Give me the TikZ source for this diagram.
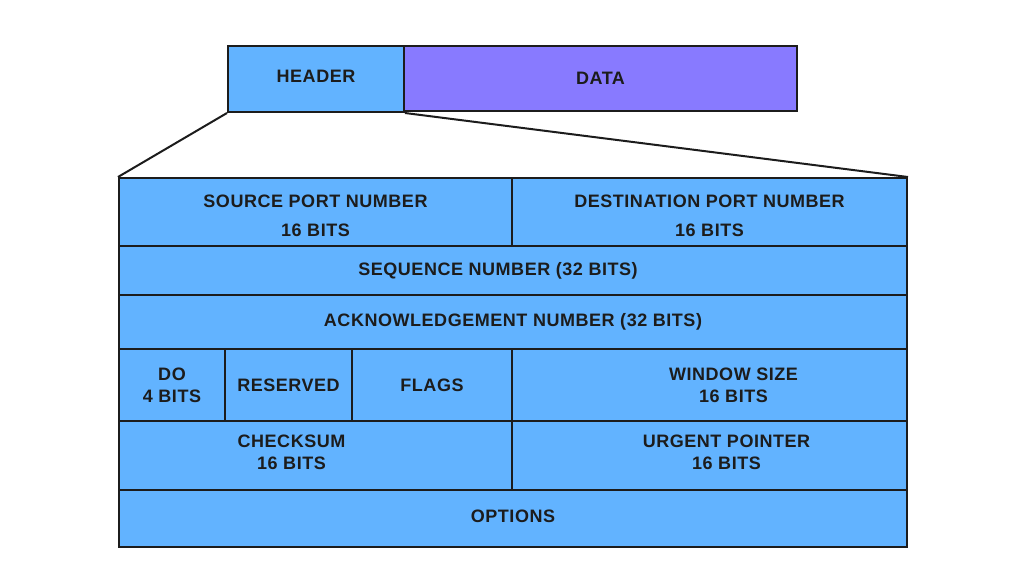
\documentclass[tikz,border=0pt]{standalone}
\usepackage{fontspec}
\setmainfont{Liberation Sans}[LetterSpace=3]
\usepackage{xcolor}
\usetikzlibrary{positioning}
\definecolor{hdrblue}{HTML}{62B3FF}
\definecolor{datapurple}{HTML}{887AFF}
\definecolor{ink}{HTML}{1C1C1C}

\begin{document}
\begin{tikzpicture}[x=1pt,y=-1pt,line width=2pt,
    font=\fontsize{18}{22}\selectfont\bfseries]
  \tikzstyle{cell}=[draw=ink, fill=hdrblue, text=ink, inner sep=0pt, align=center, anchor=north west]
  \tikzstyle{lbl}=[text=ink, align=center, inner sep=0pt]
  \useasboundingbox (0,0) rectangle (1024,576);

  % packet
  \node[cell, minimum width=176pt, minimum height=66pt,
        label={[lbl,yshift=3pt]center:HEADER}] (hdr) at (227,45) {};
  \node[cell, fill=datapurple, minimum width=393pt, minimum height=65pt] (data) at (403,45) {DATA};

  % header fields
  \node[cell, minimum width=393pt, minimum height=68pt,
        label={[lbl,yshift=-4pt]center:SOURCE PORT NUMBER\\[7pt]16 BITS}] (src) at (118,177) {};
  \node[cell, minimum width=395pt, minimum height=68pt,
        label={[lbl,yshift=-4pt]center:DESTINATION PORT NUMBER\\[7pt]16 BITS}] (dst) at (511,177) {};
  \node[cell, minimum width=788pt, minimum height=49pt,
        label={[lbl,xshift=-15pt]center:SEQUENCE NUMBER (32 BITS)}] (seq) at (118,245) {};
  \node[cell, minimum width=788pt, minimum height=54pt] (ack) at (118,294) {ACKNOWLEDGEMENT NUMBER (32 BITS)};
  \node[cell, minimum width=106pt, minimum height=72pt] (do) at (118,348) {DO\\4 BITS};
  \node[cell, minimum width=127pt, minimum height=72pt] (rsv) at (224,348) {RESERVED};
  \node[cell, minimum width=160pt, minimum height=72pt] (flg) at (351,348) {FLAGS};
  \node[cell, minimum width=395pt, minimum height=72pt,
        label={[lbl,xshift=24pt]center:WINDOW SIZE\\16 BITS}] (win) at (511,348) {};
  \node[cell, minimum width=393pt, minimum height=69pt,
        label={[lbl,xshift=-24pt,yshift=3pt]center:CHECKSUM\\16 BITS}] (chk) at (118,420) {};
  \node[cell, minimum width=395pt, minimum height=69pt,
        label={[lbl,xshift=17pt,yshift=3pt]center:URGENT POINTER\\16 BITS}] (urg) at (511,420) {};
  \node[cell, minimum width=788pt, minimum height=57pt,
        label={[lbl,yshift=2pt]center:OPTIONS}] (opt) at (118,489) {};

  \path[draw=ink]
    (hdr.south west) edge (src.north west)
    (hdr.south east) edge (dst.north east);
\end{tikzpicture}
\end{document}
